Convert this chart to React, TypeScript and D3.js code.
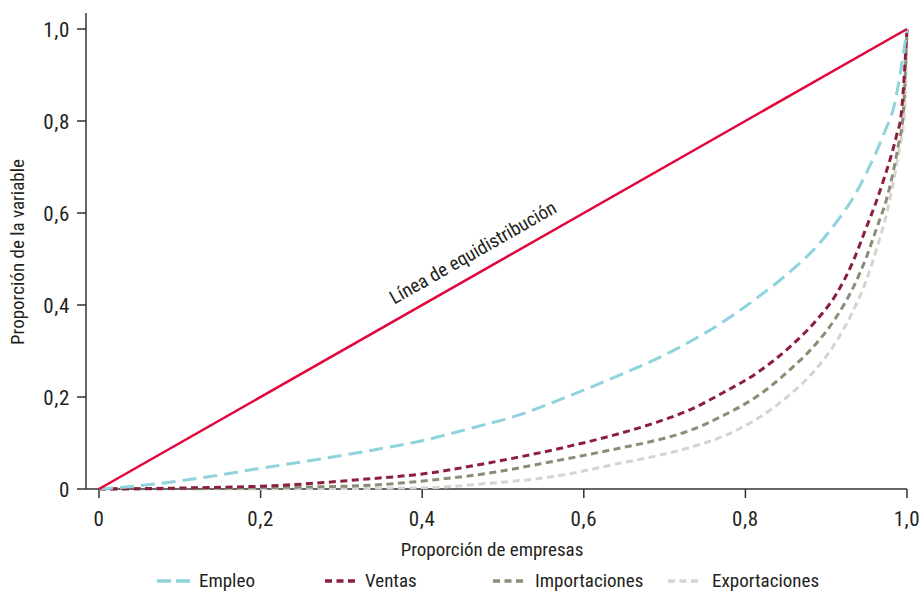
import React from 'react';
import * as d3 from 'd3';

const xTicks = [0, 0.2, 0.4, 0.6, 0.8, 1.0];
const yTicks = [0, 0.2, 0.4, 0.6, 0.8, 1.0];
const fmt = (v: number) => (v === 0 ? '0' : v.toFixed(1).replace('.', ','));

const seriesNames = ['Empleo', 'Ventas', 'Importaciones', 'Exportaciones'];

const equiX = [0, 1];
const equiY = [0, 1];

const empleoX = [0, 0.03, 0.11, 0.2, 0.28, 0.34, 0.41, 0.46, 0.52, 0.58, 0.645, 0.69, 0.731, 0.773, 0.814, 0.855, 0.888, 0.913, 0.934, 0.95, 0.962, 0.972, 0.984, 0.995, 1];
const empleoY = [0, 0.004, 0.02, 0.045, 0.067, 0.085, 0.109, 0.132, 0.161, 0.201, 0.248, 0.283, 0.32, 0.364, 0.415, 0.472, 0.527, 0.581, 0.635, 0.688, 0.733, 0.775, 0.833, 0.94, 1];

const ventasX = [0, 0.1, 0.236, 0.32, 0.41, 0.48, 0.562, 0.645, 0.69, 0.731, 0.773, 0.814, 0.855, 0.888, 0.913, 0.934, 0.95, 0.962, 0.972, 0.98, 0.987, 0.993, 1];
const ventasY = [0, 0.002, 0.009, 0.02, 0.035, 0.056, 0.085, 0.121, 0.145, 0.172, 0.21, 0.252, 0.309, 0.367, 0.425, 0.498, 0.57, 0.625, 0.677, 0.722, 0.768, 0.817, 1];

const importX = [0, 0.2, 0.32, 0.41, 0.48, 0.562, 0.645, 0.69, 0.731, 0.773, 0.814, 0.855, 0.888, 0.913, 0.934, 0.95, 0.962, 0.975, 0.983, 0.989, 0.995, 1];
const importY = [0, 0.003, 0.007, 0.019, 0.034, 0.06, 0.089, 0.106, 0.127, 0.16, 0.201, 0.259, 0.317, 0.375, 0.44, 0.505, 0.565, 0.632, 0.69, 0.745, 0.81, 1];

const exportX = [0, 0.3, 0.41, 0.48, 0.562, 0.645, 0.69, 0.731, 0.773, 0.814, 0.855, 0.888, 0.913, 0.934, 0.95, 0.962, 0.975, 0.984, 0.99, 0.997, 1];
const exportY = [0, 0.001, 0.003, 0.012, 0.027, 0.056, 0.072, 0.09, 0.115, 0.152, 0.205, 0.262, 0.322, 0.39, 0.455, 0.52, 0.6, 0.675, 0.735, 0.82, 1];

const W = 920;
const H = 591;
const FONT = "'Liberation Sans Narrow', 'Arial Narrow', 'Roboto Condensed', sans-serif";
const TEXT = '#231f20';

export default function App() {
  const x = d3.scaleLinear().domain([0, 1]).range([99, 907]);
  const y = d3.scaleLinear().domain([0, 1]).range([489, 29]);
  const line = d3
    .line<[number, number]>()
    .x((d) => x(d[0]))
    .y((d) => y(d[1]))
    .curve(d3.curveMonotoneX);
  const zip = (a: number[], b: number[]) => a.map((v, i) => [v, b[i]] as [number, number]);

  const series = [
    { name: seriesNames[3], xs: exportX, ys: exportY, color: '#d9d2cf', dash: '7,4.5', w: 3 },
    { name: seriesNames[2], xs: importX, ys: importY, color: '#8a8e76', dash: '7,4.5', w: 3 },
    { name: seriesNames[1], xs: ventasX, ys: ventasY, color: '#8c1f3d', dash: '7,4.5', w: 3 },
    { name: seriesNames[0], xs: empleoX, ys: empleoY, color: '#8fd3dc', dash: '14,7', w: 3 },
  ];

  const legend = [
    { name: seriesNames[0], color: '#8fd3dc', dash: '14,5', sx: 157, tx: 199 },
    { name: seriesNames[1], color: '#8c1f3d', dash: '7,4.5', sx: 325, tx: 365 },
    { name: seriesNames[2], color: '#8a8e76', dash: '7,4.5', sx: 493, tx: 535 },
    { name: seriesNames[3], color: '#d9d2cf', dash: '7,4.5', sx: 668, tx: 712 },
  ];

  const angle = (-Math.atan2(y(0) - y(1), x(1) - x(0)) * 180) / Math.PI;
  const labelPos = 0.374;

  return (
    <svg width={W} height={H} style={{ position: 'absolute', left: 0, top: 0, background: '#fff' }} fontFamily={FONT}>
      <rect width={W} height={H} fill="#fff" />
      {/* axes */}
      <line x1={86} x2={86} y1={13} y2={y(0)} stroke="#333" strokeWidth={1.5} />
      <line x1={86} x2={x(1)} y1={y(0)} y2={y(0)} stroke="#333" strokeWidth={1.5} />
      {yTicks.map((t) => (
        <g key={'y' + t}>
          <line x1={77} x2={86} y1={y(t)} y2={y(t)} stroke="#333" strokeWidth={1.5} />
          <text x={70} y={y(t)} dy="0.36em" textAnchor="end" fontSize={21} letterSpacing={0.6} fill={TEXT}>
            {fmt(t)}
          </text>
        </g>
      ))}
      {xTicks.map((t) => (
        <g key={'x' + t}>
          <line x1={x(t)} x2={x(t)} y1={y(0)} y2={y(0) + 9} stroke="#333" strokeWidth={1.5} />
          <text x={x(t)} y={526} textAnchor="middle" fontSize={21} letterSpacing={0.6} fill={TEXT}>
            {fmt(t)}
          </text>
        </g>
      ))}
      <text x={492} y={556} textAnchor="middle" fontSize={19} fill={TEXT}>
        Proporción de empresas
      </text>
      <text transform={`translate(24,252) rotate(-90)`} textAnchor="middle" fontSize={19} fill={TEXT}>
        Proporción de la variable
      </text>

      {/* series */}
      {series.map((s) => (
        <path key={s.name} d={line(zip(s.xs, s.ys)) || ''} fill="none" stroke={s.color} strokeWidth={s.w} strokeDasharray={s.dash} />
      ))}
      <path d={line(zip(equiX, equiY)) || ''} fill="none" stroke="#e2063c" strokeWidth={2.5} />
      <text
        transform={`translate(${x(labelPos)},${y(labelPos)}) rotate(${angle})`}
        y={-14}
        fontSize={19}
        fill={TEXT}
      >
        Línea de equidistribución
      </text>

      {/* legend */}
      {legend.map((l) => (
        <g key={l.name}>
          <line x1={l.sx} x2={l.sx + 33} y1={581} y2={581} stroke={l.color} strokeWidth={3.5} strokeDasharray={l.dash} />
          <text x={l.tx} y={587} fontSize={19} fill={TEXT}>
            {l.name}
          </text>
        </g>
      ))}
    </svg>
  );
}
